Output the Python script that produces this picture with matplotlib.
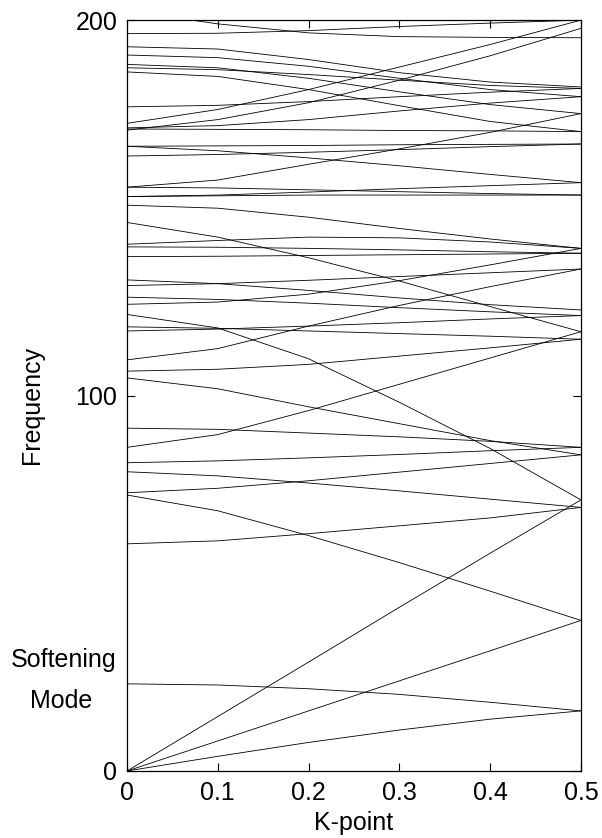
import matplotlib
matplotlib.use("Agg")
import matplotlib.pyplot as plt
import numpy as np

plt.rcParams['font.family'] = ['Liberation Sans', 'DejaVu Sans']

kpts = [0.0, 0.1, 0.2, 0.3, 0.4, 0.5]

# acoustic branches and the softening mode
acoustic_1 = [0.0, 3.9, 7.6, 10.9, 13.8, 16.0]
soft_mode = [23.2, 22.9, 21.9, 20.4, 18.3, 16.0]
acoustic_2 = [0.0, 8.0, 16.0, 24.0, 32.0, 40.1]
acoustic_3 = [0.0, 14.5, 29.0, 43.6, 58.0, 72.2]

# optical branches
optical = [
    [73.5, 69.3, 62.7, 55.5, 47.9, 40.1],
    [121.6, 118.0, 109.8, 98.2, 85.9, 72.2],
    [60.5, 61.3, 63.2, 65.3, 67.4, 70.2],
    [79.7, 78.6, 76.7, 74.6, 72.4, 70.2],
    [74.1, 75.3, 77.3, 79.6, 81.9, 84.2],
    [104.7, 101.8, 97.0, 92.5, 88.0, 84.2],
    [82.1, 82.6, 83.4, 84.3, 85.3, 86.2],
    [91.3, 91.0, 90.0, 89.0, 87.8, 86.2],
    [86.2, 89.6, 96.0, 103.0, 110.0, 117.0],
    [146.1, 142.2, 136.7, 130.5, 123.7, 117.0],
    [106.5, 107.0, 108.3, 110.5, 112.7, 115.0],
    [109.5, 112.5, 118.5, 124.0, 129.0, 133.7],
    [117.2, 117.7, 118.5, 119.4, 120.4, 121.3],
    [118.3, 117.9, 117.2, 116.5, 115.8, 115.0],
    [124.3, 124.9, 127.0, 130.6, 134.8, 139.2],
    [126.2, 125.6, 124.6, 123.4, 122.3, 121.3],
    [129.3, 129.8, 130.7, 131.7, 132.7, 133.7],
    [130.8, 129.8, 128.0, 126.0, 124.2, 122.8],
    [137.0, 137.1, 137.3, 137.5, 137.7, 137.9],
    [139.6, 139.5, 139.2, 138.8, 138.3, 137.9],
    [140.3, 141.3, 142.2, 142.0, 140.9, 139.2],
    [150.7, 149.9, 147.5, 144.5, 141.7, 139.2],
    [153.0, 153.2, 153.4, 153.4, 153.4, 153.4],
    [153.0, 153.4, 154.2, 155.1, 155.9, 156.7],
    [155.5, 155.3, 154.8, 154.3, 153.8, 153.4],
    [155.5, 157.4, 161.6, 165.7, 170.1, 175.1],
    [166.4, 165.2, 163.3, 161.2, 158.9, 156.7],
    [163.8, 164.2, 164.8, 165.5, 166.3, 167.0],
    [166.4, 166.5, 166.6, 166.8, 166.9, 167.0],
    [172.5, 176.2, 181.5, 187.5, 193.5, 200.0],
    [170.7, 173.5, 178.0, 184.0, 190.5, 197.8],
    [196.4, 196.5, 197.2, 198.3, 199.2, 200.0],
    [202.5, 199.0, 196.6, 195.6, 195.4, 195.3],
    [192.9, 192.3, 189.5, 186.0, 183.5, 182.2],
    [190.7, 190.0, 187.7, 184.5, 181.5, 179.6],
    [188.2, 187.3, 184.5, 180.9, 177.5, 175.1],
    [187.3, 186.8, 185.5, 184.0, 182.6, 181.8],
    [186.2, 185.0, 181.5, 177.2, 173.0, 170.3],
    [176.9, 177.3, 178.3, 179.6, 180.8, 181.8],
    [171.3, 171.9, 173.5, 175.8, 177.9, 179.6],
    [171.0, 170.9, 170.8, 170.6, 170.5, 170.3],
]

bands = [acoustic_1, soft_mode, acoustic_2, acoustic_3] + optical

fig = plt.figure(figsize=(6.02, 8.38), dpi=100)
ax = fig.add_axes([0.211, 0.080, 0.754, 0.896])

for b in bands:
    ax.plot(kpts, b, color='black', lw=0.6)

ax.set_xlim(0, 0.5)
ax.set_ylim(0, 200)
ax.set_xticks([0, 0.1, 0.2, 0.3, 0.4, 0.5])
ax.set_xticklabels(['0', '0.1', '0.2', '0.3', '0.4', '0.5'])
ax.set_yticks([0, 100, 200])
ax.tick_params(direction='in', length=6, width=0.8, top=True, right=True,
               labelsize=18, pad=7)
for s in ax.spines.values():
    s.set_linewidth(0.9)

fig.text(32 / 602, 1 - 405 / 838, 'Frequency', rotation=90,
         ha='center', va='center', fontsize=18)
fig.text(354 / 602, 1 - 823 / 838, 'K-point', ha='center', va='center',
         fontsize=18)
fig.text(64 / 602, 1 - 660 / 838, 'Softening', ha='center', va='center',
         fontsize=18)
fig.text(61 / 602, 1 - 701 / 838, 'Mode', ha='center', va='center',
         fontsize=18)

fig.savefig('out.png', dpi=100)
